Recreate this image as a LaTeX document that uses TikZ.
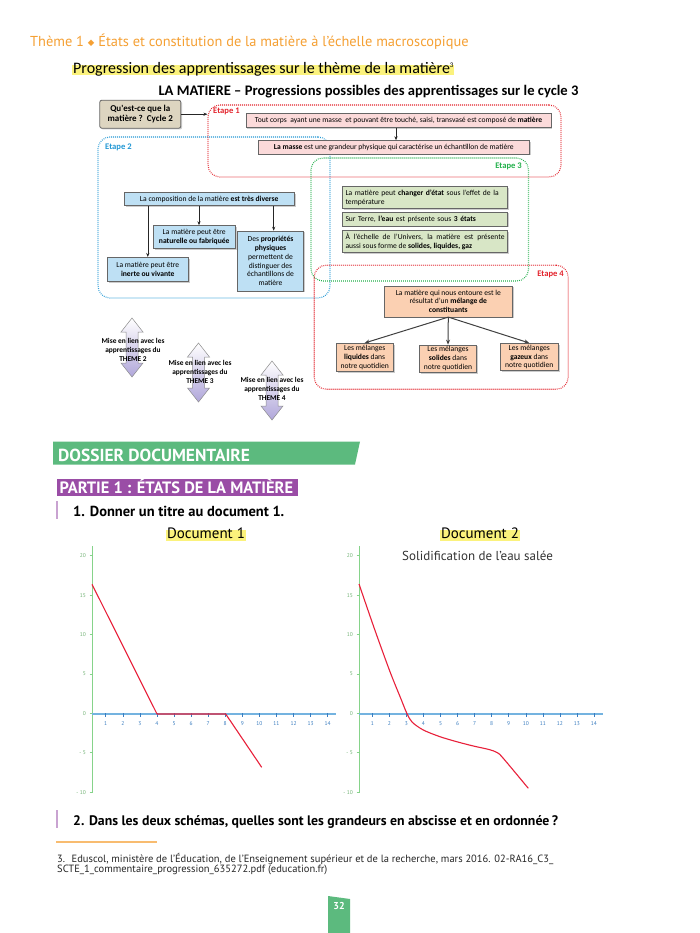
\documentclass[tikz,border=0pt]{standalone}
\usepackage{fontspec}
\setmainfont{PT Sans}
\newfontfamily\calfont{Carlito}
\newfontfamily\dvsfont{DejaVu Sans}
\usetikzlibrary{shadows,arrows.meta,calc}
\definecolor{hdrorange}{HTML}{F5A033}
\definecolor{hlyellow}{HTML}{FBF27C}
\definecolor{etred}{HTML}{E3232C}
\definecolor{etblue}{HTML}{2298D5}
\definecolor{etgreen}{HTML}{22B04B}
\definecolor{pinkfill}{HTML}{FBDADA}
\definecolor{bluefill}{HTML}{BEE0F4}
\definecolor{greenfill}{HTML}{D8E6C6}
\definecolor{orangefill}{HTML}{FBD0B2}
\definecolor{beigefill}{HTML}{DDD5C0}
\definecolor{banner}{HTML}{5CBA7E}
\definecolor{partie}{HTML}{9A4DA6}
\definecolor{barpurple}{HTML}{C9A3D1}
\definecolor{axgreen}{HTML}{86D38A}
\definecolor{axblue}{HTML}{74B3E0}
\definecolor{tickblue}{HTML}{3A7DC0}
\definecolor{curvered}{HTML}{E8203A}
\definecolor{arrowpurple}{HTML}{B0A6DA}
\tikzset{
  box/.style={draw=black!60, line width=0.6pt, align=center, inner sep=1pt,
    font=\calfont\fontsize{7.6}{8.8}\selectfont,
    drop shadow={shadow xshift=1.3pt, shadow yshift=-1.3pt, opacity=0.4}},
  pinkbox/.style={box, fill=pinkfill},
  bluebox/.style={box, fill=bluefill},
  greenbox/.style={box, fill=greenfill, text width=159, inner sep=3pt, align=left},
  orangebox/.style={box, fill=orangefill},
  beigebox/.style={box, fill=beigefill, rounded corners=2pt, line width=0.8pt,
    font=\calfont\bfseries\fontsize{9}{10.5}\selectfont},
  etape/.style={draw=#1, line width=1.1pt, dash pattern=on 0.8pt off 1.2pt, rounded corners=12pt},
  etlabel/.style={text=#1, font=\calfont\bfseries\fontsize{8.6}{10}\selectfont, inner sep=0pt},
  arr/.style={draw=black!85, line width=0.6pt, -{Stealth[length=4pt,width=3.2pt]}},
  thickarr/.style={draw=black!75, line width=1pt, -{Stealth[length=5pt,width=4pt]}},
  linktext/.style={align=center, font=\calfont\bfseries\fontsize{7.4}{9.3}\selectfont, inner sep=0pt},
  ylab/.style={text=axgreen!85!black, font=\fontsize{5.5}{6}\selectfont, inner sep=0pt},
  xlab/.style={text=tickblue, font=\fontsize{5.5}{6}\selectfont, inner sep=0pt},
  curve/.style={draw=curvered, line width=1.1pt, line join=round},
  pagetext/.style={inner sep=0pt, anchor=base west},
  hl/.style={fill=hlyellow, blend mode=multiply},
}
\newcommand\linkarrow[3]{%
  \path[draw=black!45, line width=0.5pt, top color=white, bottom color=arrowpurple]
    (#1,#2) -- ++(11,14) -- ++(-5,0) -- (#1+6,#3-14) -- ++(5,0) -- (#1,#3)
    -- ++(-11,-14) -- ++(5,0) -- (#1-6,#2+14) -- ++(-5,0) -- cycle;}
\begin{document}
\begin{tikzpicture}[x=1pt,y=-1pt]
\useasboundingbox (0,0) rectangle (700,933);
\fill[white] (0,0) rectangle (700,933);

% ---------- page header ----------
\node[pagetext, text=hdrorange, font=\fontsize{14.4}{16}\selectfont] (hdr) at (30,47)
  {Thème 1 {\dvsfont\fontsize{8.5}{8}\selectfont\raisebox{1.5pt}{◆}} États et constitution de la matière à l’échelle macroscopique};
\node[pagetext, font=\calfont\fontsize{16}{18}\selectfont] (prog) at (73,74)
  {Progression des apprentissages sur le thème de la matière{\fontsize{7}{8}\selectfont\raisebox{6pt}{3}}};
\fill[hl] ($(prog.base west)+(-1,-8.5)$) rectangle ($(prog.base east)+(0,1.5)$);
\node[inner sep=0pt, anchor=base, font=\calfont\bfseries\fontsize{14.6}{16}\selectfont] (titre) at (368.5,96)
  {LA MATIERE – Progressions possibles des apprentissages sur le cycle 3};

% ---------- etapes (dotted frames) ----------
\node[etape=etblue, minimum width=232, minimum height=161] (e2) at (214,217.5) {};
\node[etape=etred, minimum width=353, minimum height=72] (e1) at (384.5,141) {};
\node[etape=etgreen, minimum width=217.5, minimum height=123] (e3) at (419.75,219.5) {};
\node[etape=etred, minimum width=254, minimum height=124] (e4) at (441.2,327.2) {};
\node[etlabel=etred, anchor=west] (l1) at (213,111) {Etape 1};
\node[etlabel=etblue, anchor=west] (l2) at (105,147) {Etape 2};
\node[etlabel=etgreen, anchor=east] (l3) at (522,166.5) {Etape 3};
\node[etlabel=etred, anchor=east] (l4) at (564,274) {Etape 4};

% ---------- boxes ----------
\node[beigebox, minimum width=81, minimum height=28] (q) at (140.3,114.2) {Qu'est-ce que la\\matière ?~~Cycle 2};
\draw[arr] (q.east) -- (e1.west |- q.east);

\node[pinkbox, minimum width=305, minimum height=13.5] (p1) at (398.5,120.5)
  {Tout corps~ ayant une masse~ et pouvant être touché, saisi, transvasé est composé de \textbf{matière}};
\node[pinkbox, minimum width=271, minimum height=13.5] (p2) at (393.8,147.3)
  {\textbf{La masse} est une grandeur physique qui caractérise un échantillon de matière};
\coordinate (ap) at (396,0);
\draw[arr] (p1.south -| ap) -- (p2.north -| ap);

\node[bluebox, minimum width=170, minimum height=13] (comp) at (209.2,199)
  {La composition de la matière \textbf{est très diverse}};
\node[bluebox, minimum width=82, minimum height=23] (nat) at (194.2,237)
  {La matière peut être\\\textbf{naturelle ou fabriquée}};
\node[bluebox, minimum width=66, minimum height=60] (prop) at (270.5,261)
  {Des \textbf{propriétés}\\\textbf{physiques}\\permettent de\\distinguer des\\échantillons de\\matière};
\node[bluebox, minimum width=81, minimum height=24.5] (inert) at (147.8,269.5)
  {La matière peut être\\\textbf{inerte ou vivante}};
\coordinate (an) at (199,0);
\coordinate (apr) at (273.7,0);
\draw[arr] (comp.south -| inert.north) -- (inert.north);
\draw[arr] (comp.south -| an) -- (nat.north -| an);
\draw[arr] (comp.south -| apr) -- (prop.north -| apr);

\node[greenbox, minimum height=22] (g1) at (425,197.5)
  {La matière peut \textbf{changer d’état} sous l’effet de la\\température};
\node[greenbox, minimum height=14] (g2) at (425,219)
  {Sur Terre, \textbf{l’eau} est présente sous \textbf{3 états}};
\node[greenbox, align=justify, minimum height=22] (g3) at (425,241.5)
  {À l’échelle de l’Univers, la matière est présente\linebreak aussi sous forme de \textbf{solides, liquides, gaz}};

\node[orangebox, minimum width=128, minimum height=31] (om) at (448.3,301.3)
  {La matière qui nous entoure est le\\résultat d’un \textbf{mélange de}\\\textbf{constituants}};
\node[orangebox, minimum width=57, minimum height=28.5] (liq) at (364.7,357.5)
  {Les mélanges\\\textbf{liquides} dans\\notre quotidien};
\node[orangebox, minimum width=57, minimum height=27.5] (sol) at (448,358.7)
  {Les mélanges\\\textbf{solides} dans\\notre quotidien};
\node[orangebox, minimum width=58, minimum height=27.5] (gaz) at (529.2,357)
  {Les mélanges\\\textbf{gazeux} dans\\notre quotidien};
\draw[thickarr] (om.south) -- (liq.north);
\draw[thickarr] (om.south) -- (sol.north);
\draw[thickarr] (om.south) -- (gaz.north);

% ---------- link arrows ----------
\linkarrow{132}{318}{377}
\linkarrow{198.5}{343}{402}
\linkarrow{272}{361}{420}
\node[linktext] (t2) at (133,350) {Mise en lien avec les\\apprentissages du\\THEME 2};
\node[linktext] (t3) at (200,372) {Mise en lien avec les\\apprentissages du\\THEME 3};
\node[linktext] (t4) at (272,389) {Mise en lien avec les\\apprentissages du\\THEME 4};

% ---------- dossier documentaire ----------
\fill[banner] (53,441.5) -- (360,441.5) -- (355,464.5) -- (53,464.5) -- cycle;
\node[pagetext, text=white, font=\bfseries\fontsize{17.4}{19}\selectfont] (dos) at (58,461) {DOSSIER DOCUMENTAIRE};
\fill[partie] (57,479) rectangle (297.5,495.5);
\node[pagetext, text=white, font=\bfseries\fontsize{16.4}{18}\selectfont] (part) at (59.5,493.3) {PARTIE 1 : ÉTATS DE LA MATIÈRE};
\fill[barpurple] (56,501) rectangle (58,519);
\node[pagetext, font=\bfseries\fontsize{14.5}{16}\selectfont] (q1) at (73,516) {1. Donner un titre au document 1.};

\node[inner sep=0pt, anchor=base, font=\fontsize{15}{16}\selectfont] (d1) at (206,538.5) {Document 1};
\fill[hl] ($(d1.base west)+(-1,-9)$) rectangle ($(d1.base east)+(1,2.5)$);
\node[inner sep=0pt, anchor=base, font=\fontsize{15}{16}\selectfont] (d2) at (480,538.5) {Document 2};
\fill[hl] ($(d2.base west)+(-1,-9)$) rectangle ($(d2.base east)+(1,2.5)$);

% ---------- chart 1 ----------
\draw[axgreen, line width=0.9pt] (92,546) -- (92,793);
\foreach \i/\l in {0/20,1/15,2/10,3/5,4/0,5/- 5,6/- 10}{
  \draw[axgreen, line width=0.6pt] (89.5,555.7+39.4*\i) -- (92,555.7+39.4*\i);
  \node[ylab, anchor=east] (ya\i) at (86,555.7+39.4*\i) {\l};
}
\draw[axblue, line width=1.8pt] (92,714) -- (336,714);
\foreach \k in {1,...,14}{
  \draw[tickblue, line width=0.5pt] (88.6+17.08*\k,713) -- (88.6+17.08*\k,717);
  \node[xlab] (xa\k) at (88.6+17.08*\k,723.5) {\k};
}
\draw[curve] (92,584.3) -- (157,714) -- (225.7,714) -- (261.7,767.3);

% ---------- chart 2 ----------
\node[pagetext, text=black!80, font=\fontsize{13}{15}\selectfont] (sol2) at (402,560) {Solidification de l’eau salée};
\draw[axgreen, line width=0.9pt] (359,546) -- (359,793);
\foreach \i/\l in {0/20,1/15,2/10,3/5,4/0,5/- 5,6/- 10}{
  \draw[axgreen, line width=0.6pt] (356.5,555.7+39.4*\i) -- (359,555.7+39.4*\i);
  \node[ylab, anchor=east] (yb\i) at (353,555.7+39.4*\i) {\l};
}
\draw[axblue, line width=1.8pt] (359,714) -- (603,714);
\foreach \k in {1,...,14}{
  \draw[tickblue, line width=0.5pt] (355.25+17.05*\k,713) -- (355.25+17.05*\k,717);
  \node[xlab] (xb\k) at (355.25+17.05*\k,723.5) {\k};
}
\draw[curve] plot[smooth, tension=0.5] coordinates {(359,584) (374.5,629) (390,671.7) (401,699) (406.7,713) (412,722) (423.3,730) (440,736.7) (456.7,741.7) (473.3,746) (489,749.5) (497,752.5) (503,758) (528.3,788.3)};

% ---------- question 2 and footnote ----------
\fill[barpurple] (56,810) rectangle (58,828);
\node[pagetext, font=\bfseries\fontsize{13.8}{16}\selectfont] (q2) at (73,825)
  {2. Dans les deux schémas, quelles sont les grandeurs en abscisse et en ordonnée\,?};
\draw[hdrorange!70, line width=1.2pt] (56,842) -- (157,842);
\node[pagetext, text=black!85, font=\fontsize{10.5}{12}\selectfont] (fn1) at (57,862)
  {3.~ Eduscol, ministère de l’Éducation, de l’Enseignement supérieur et de la recherche, mars 2016. 02-RA16\_C3\_};
\node[pagetext, text=black!85, font=\fontsize{10.5}{12}\selectfont] (fn2) at (57,872.5)
  {SCTE\_1\_commentaire\_progression\_635272.pdf (education.fr)};

% ---------- page number ----------
\fill[banner] (328,896) -- (350,899) -- (350,933) -- (328,933) -- cycle;
\node[text=white, font=\bfseries\fontsize{10}{12}\selectfont, inner sep=0pt] (pg) at (339,905.5) {32};
\end{tikzpicture}
\end{document}
